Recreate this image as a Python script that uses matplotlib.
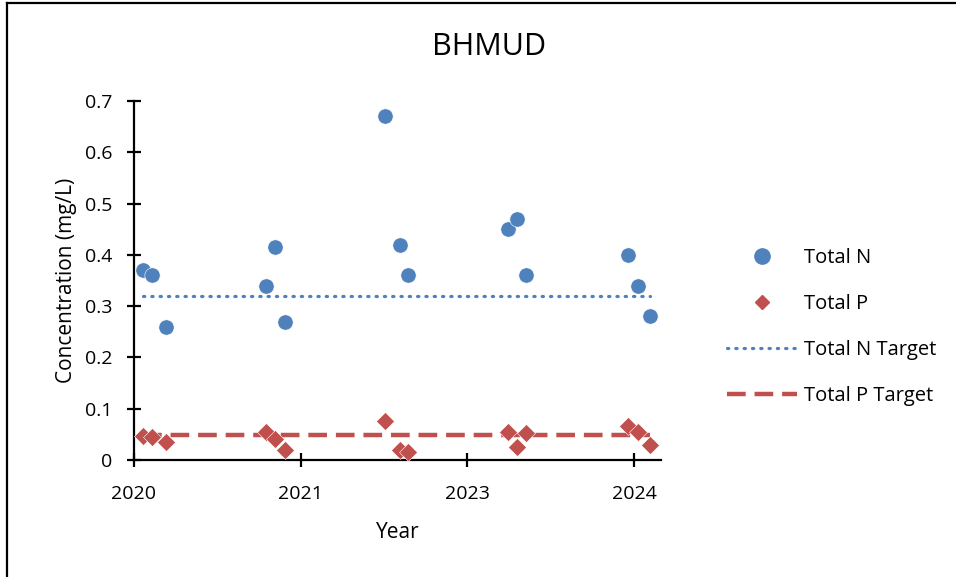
import numpy as np
import matplotlib
matplotlib.use("Agg")
import matplotlib.pyplot as plt
import matplotlib.dates as mdates
from matplotlib.lines import Line2D

plt.rcParams['font.family'] = ['Open Sans', 'DejaVu Sans']

# ---- data ----
sample_dates = ["2020-05-29", "2020-06-25", "2020-08-04",
                "2021-06-01", "2021-06-29", "2021-07-29",
                "2022-05-24", "2022-07-09", "2022-08-01",
                "2023-05-28", "2023-06-23", "2023-07-21",
                "2024-05-22", "2024-06-22", "2024-07-27"]
total_n = [0.37, 0.36, 0.26,
           0.34, 0.415, 0.27,
           0.67, 0.42, 0.36,
           0.45, 0.47, 0.36,
           0.40, 0.34, 0.28]
total_p = [0.047, 0.044, 0.035,
           0.055, 0.040, 0.020,
           0.077, 0.020, 0.015,
           0.055, 0.026, 0.053,
           0.067, 0.055, 0.030]
n_target = 0.32
p_target = 0.048
axis_start = "2020-05-01"
tick_step_days = 500
axis_span_days = 1581
y_ticks = [0, 0.1, 0.2, 0.3, 0.4, 0.5, 0.6, 0.7]
y_tick_labels = ["0", "0.1", "0.2", "0.3", "0.4", "0.5", "0.6", "0.7"]

blue = "#4F81BD"
red = "#C0504D"

dates = np.array(sample_dates, dtype="datetime64[D]")
start = np.datetime64(axis_start)
tick_dates = [start + np.timedelta64(k * tick_step_days, "D") for k in range(4)]

fig = plt.figure(figsize=(9.56, 5.77), dpi=100)
ax = fig.add_axes([134/956, 1-460/577, (661-134)/956, (460-101)/577])

ax.plot(dates, [n_target]*len(dates), color=blue, lw=2.3, linestyle=(0, (0.4, 2.2)),
        dash_capstyle='round', label="Total N Target", zorder=2)
ax.plot(dates, [p_target]*len(dates), color=red, lw=3.2, linestyle=(0, (4.2, 2.0)),
        label="Total P Target", zorder=2)
ax.plot(dates, total_n, linestyle='none', marker='o', ms=11, color=blue,
        markeredgecolor='white', markeredgewidth=0.4, label="Total N", zorder=3)
ax.plot(dates, total_p, linestyle='none', marker='D', ms=9, color=red,
        markeredgecolor='white', markeredgewidth=0.4, label="Total P", zorder=3)

ax.set_xlim(start, start + np.timedelta64(axis_span_days, "D"))
ax.set_ylim(0, 0.7)
ax.set_xticks(tick_dates)
ax.xaxis.set_major_formatter(mdates.DateFormatter("%Y"))
ax.set_yticks(y_ticks)
ax.set_yticklabels(y_tick_labels)

for s in ["top", "right"]:
    ax.spines[s].set_visible(False)
for s in ["left", "bottom"]:
    ax.spines[s].set_linewidth(1.6)
    ax.spines[s].set_color("black")
ax.tick_params(axis='both', direction='inout', length=10, width=1.6, labelsize=14,
               colors='black')
ax.tick_params(axis='y', pad=10.5)
ax.tick_params(axis='x', pad=13)

ax.set_xlabel("Year", fontsize=15, labelpad=14)
ax.set_ylabel("Concentration (mg/L)", fontsize=15, labelpad=6)
fig.text(489/956, 1-47/577, "BHMUD", ha='center', va='center', fontsize=22)

handles = [
    Line2D([], [], linestyle='none', marker='o', ms=11, color=blue),
    Line2D([], [], linestyle='none', marker='D', ms=7, color=red),
    Line2D([], [], color=blue, lw=2.3, linestyle=(0, (0.4, 2.2)), dash_capstyle='round'),
    Line2D([], [], color=red, lw=3.2, linestyle=(0, (4.2, 2.0))),
]
labels = ["Total N", "Total P", "Total N Target", "Total P Target"]
fig.legend(handles, labels, loc='center left', bbox_to_anchor=(727/956, 1-327/577),
           frameon=False, fontsize=14.5, handlelength=3.5, handletextpad=0.3,
           labelspacing=1.29, borderaxespad=0, borderpad=0)

fig.add_artist(Line2D([7/956, 7/956], [0, 1-2.5/577], transform=fig.transFigure,
                      color='black', lw=1.6))
fig.add_artist(Line2D([7/956, 1], [1-2.5/577, 1-2.5/577], transform=fig.transFigure,
                      color='black', lw=1.6))

fig.savefig("out.png", dpi=100)
